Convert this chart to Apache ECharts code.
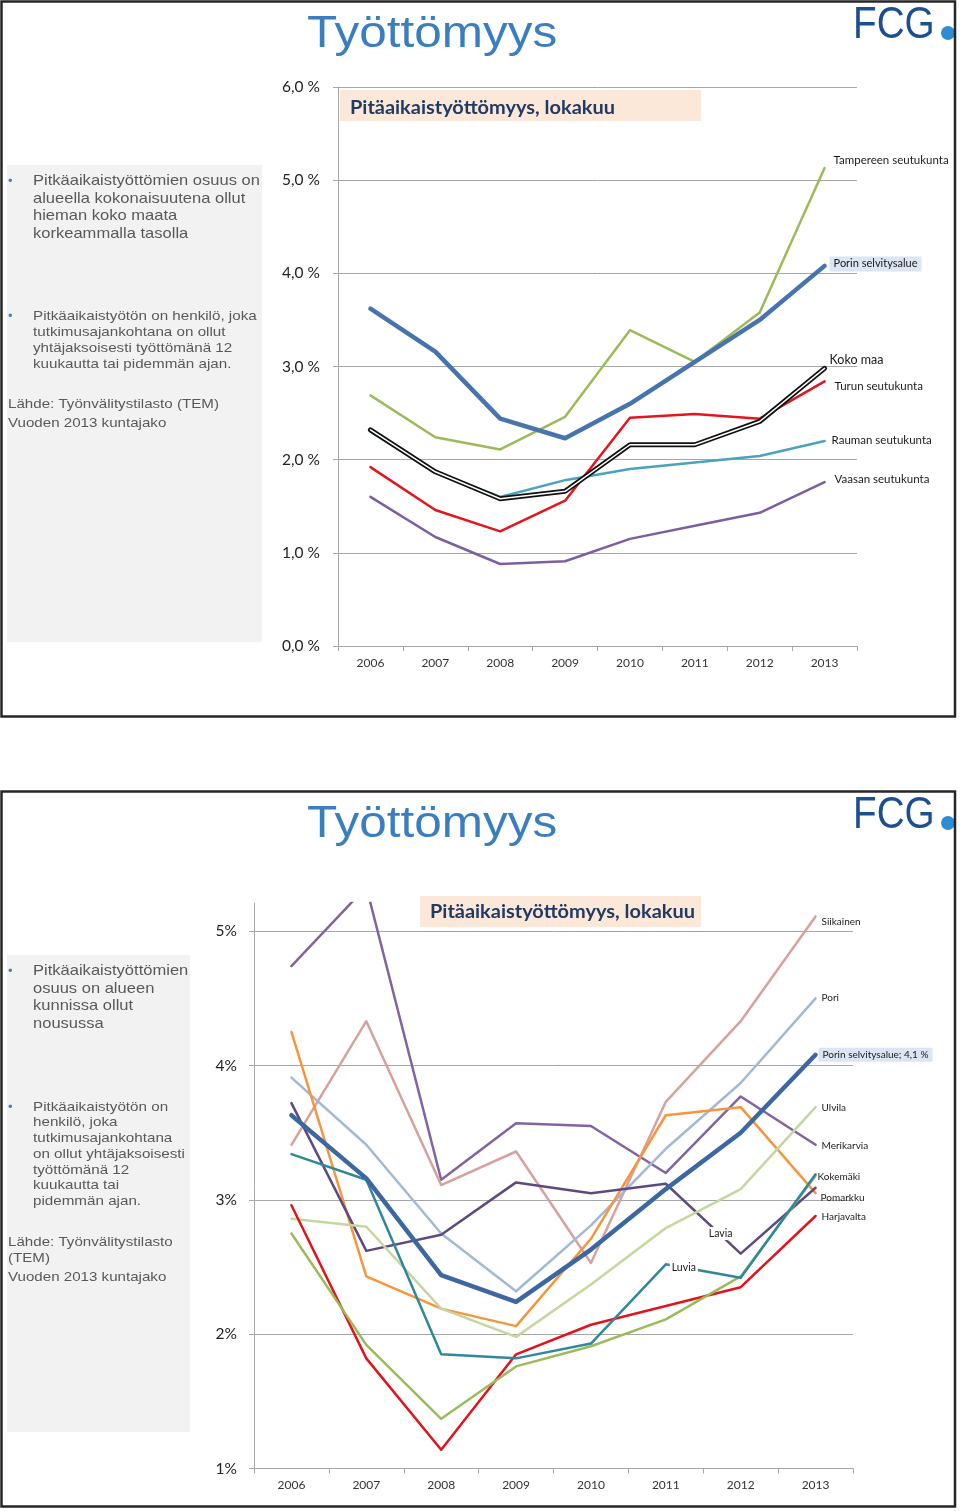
<!DOCTYPE html>
<html><head><meta charset="utf-8">
<script src="https://cdn.jsdelivr.net/npm/echarts@6/dist/echarts.min.js"></script>
<style>html,body{margin:0;padding:0;background:#fff}#c{width:960px;height:1511px}</style>
</head><body><div id="c"></div>
<script>
// ---------- DATA ----------
const years = ['2006','2007','2008','2009','2010','2011','2012','2013'];
const topTickLabels = ['0,0 %','1,0 %','2,0 %','3,0 %','4,0 %','5,0 %','6,0 %'];
const bottomTickLabels = ['1%','2%','3%','4%','5%'];

// Slide 1: Pitkäaikaistyöttömyys by seutukunta (%)
const topPorinSelvitysalue = [3.62, 3.16, 2.44, 2.23, 2.60, 3.05, 3.50, 4.08];
const topTampere          = [2.69, 2.24, 2.11, 2.46, 3.39, 3.05, 3.58, 5.13];
const topKokoMaa          = [2.32, 1.87, 1.58, 1.66, 2.16, 2.16, 2.41, 2.98];
const topTurku            = [1.92, 1.46, 1.23, 1.56, 2.45, 2.49, 2.44, 2.84];
const topRauma            = [2.30, 1.87, 1.60, 1.78, 1.90, 1.97, 2.04, 2.20];
const topVaasa            = [1.60, 1.17, 0.88, 0.91, 1.15, 1.29, 1.43, 1.76];

// Slide 2: by kunta (%)
const siikainen   = [3.41, 4.33, 3.11, 3.36, 2.53, 3.73, 4.33, 5.11];
const pori        = [3.91, 3.41, 2.75, 2.32, 2.81, 3.38, 3.87, 4.50];
const porinSelv   = [3.63, 3.16, 2.44, 2.24, 2.63, 3.08, 3.50, 4.08];
const ulvila      = [2.86, 2.80, 2.19, 1.98, 2.37, 2.79, 3.08, 3.69];
const merikarvia  = [4.74, 5.33, 3.15, 3.57, 3.55, 3.20, 3.77, 3.41];
const kokemaki    = [2.75, 1.92, 1.37, 1.76, 1.91, 2.11, 2.43, 3.18];
const pomarkku    = [4.25, 2.43, 2.19, 2.06, 2.71, 3.63, 3.69, 3.05];
const harjavalta  = [2.96, 1.82, 1.14, 1.85, 2.07, 2.21, 2.35, 2.88];
const lavia       = [3.72, 2.62, 2.74, 3.13, 3.05, 3.12, 2.60, 3.09];
const luvia       = [3.34, 3.15, 1.85, 1.82, 1.93, 2.52, 2.42, 3.19];

// ---------- CHART ----------
const chart = echarts.init(document.getElementById('c'), null, {renderer:'canvas'});
const LBL = 'Lato, "Open Sans", sans-serif';
const GRAY = '#A6A6A6';

function lineSeries(name, data, color, width, gi, endLbl, extra) {
  const s = {
    type:'line', name, data, xAxisIndex:gi, yAxisIndex:gi,
    symbol:'none', showSymbol:false, smooth:false, clip:true,
    lineStyle:{color, width, cap:'round', join:'round'},
    itemStyle:{color}, emphasis:{disabled:true}, silent:true, animation:false
  };
  if (endLbl) {
    s.endLabel = Object.assign({show:true, fontFamily:LBL, color:'#1a1a1a', distance:5}, endLbl);
  }
  return Object.assign(s, extra || {});
}
function midLabel(text, cat, val, offset) {
  return {
    symbol:'circle', symbolSize:0, silent:true, z:20,
    label:{show:true, formatter:text, fontFamily:LBL, fontSize:10.5, color:'#1a1a1a',
           backgroundColor:'#fff', padding:[1,2], offset},
    data:[{coord:[cat, val]}]
  };
}
// text element, optionally stretched horizontally (sx) to match the slide's letter-spaced type
function txt(text, x, y, font, fill, sx) {
  return {type:'text', silent:true, z:5, x, y, scaleX: sx || 1, scaleY:1, originX:0, originY:0,
    style:{text, x:0, y:0, font, fill, align:'left', verticalAlign:'middle', textAlign:'left', textVerticalAlign:'middle'}};
}

const bodyFont1 = '14.5px "Liberation Sans", Arial, sans-serif';
const bodyFont2 = '13.5px "Liberation Sans", Arial, sans-serif';
const BODY = '#595959';
const BUL = '#4F81BD';

const graphic = [];
function slide(off, panelW, bullets1, bullets2, src) {
  graphic.push({type:'rect', silent:true, z:-1, shape:{x:7, y:off+165, width:panelW, height:477}, style:{fill:'#F2F2F2'}});
  graphic.push(txt('Työttömyys', 307, off+35, '44px "Liberation Sans", Arial, sans-serif', '#3B7EC0', 1.125));
  graphic.push(txt('FCG', 853, off+26, '45px "Liberation Sans", Arial, sans-serif', '#1C4F8F', 0.86));
  graphic.push({type:'circle', silent:true, z:5, shape:{cx:948, cy:off+33, r:7}, style:{fill:'#2E8DD2'}});
  graphic.push({type:'rect', silent:true, z:100, shape:{x:1.5, y:off+1.5, width:953.5, height:715}, style:{fill:'none', stroke:'#262626', lineWidth:2.5}});
  bullets1.lines.forEach((l,i)=>graphic.push(txt(l, 33, off+bullets1.y+i*bullets1.lh, bodyFont1, BODY, 1.14)));
  graphic.push(txt('•', 8, off+bullets1.y, '13px "Liberation Sans", Arial', BUL));
  bullets2.lines.forEach((l,i)=>graphic.push(txt(l, 33, off+bullets2.y+i*bullets2.lh, bodyFont2, BODY, 1.125)));
  graphic.push(txt('•', 8, off+bullets2.y, '13px "Liberation Sans", Arial', BUL));
  src.lines.forEach((l,i)=>graphic.push(txt(l, 8, off+src.y[i], bodyFont2, BODY, 1.12)));
}
slide(0, 255,
  {y:181, lh:17.6, lines:['Pitkäaikaistyöttömien osuus on','alueella kokonaisuutena ollut','hieman koko maata','korkeammalla tasolla']},
  {y:316, lh:16, lines:['Pitkäaikaistyötön on henkilö, joka','tutkimusajankohtana on ollut','yhtäjaksoisesti työttömänä 12','kuukautta tai pidemmän ajan.']},
  {y:[404,423], lines:['Lähde: Työnvälitystilasto (TEM)','Vuoden 2013 kuntajako']});
slide(790, 183,
  {y:181, lh:17.6, lines:['Pitkäaikaistyöttömien','osuus on alueen','kunnissa ollut','nousussa']},
  {y:317, lh:15.7, lines:['Pitkäaikaistyötön on','henkilö, joka','tutkimusajankohtana','on ollut yhtäjaksoisesti','työttömänä 12','kuukautta tai','pidemmän ajan.']},
  {y:[452,468,487], lines:['Lähde: Työnvälitystilasto','(TEM)','Vuoden 2013 kuntajako']});

// chart title boxes
graphic.push({type:'rect', silent:true, z:1, shape:{x:340, y:90, width:361, height:31}, style:{fill:'#FCE8D9'}});
graphic.push(txt('Pitäaikaistyöttömyys, lokakuu', 350, 108, 'bold 19px Lato, sans-serif', '#1F3A63', 1.05));
graphic.push({type:'rect', silent:true, z:1, shape:{x:420, y:896, width:281, height:31}, style:{fill:'#FCE8D9'}});
graphic.push(txt('Pitäaikaistyöttömyys, lokakuu', 430, 912, 'bold 19px Lato, sans-serif', '#1F3A63', 1.05));

const xAxisBase = (gi) => ({
  type:'category', gridIndex:gi, data:years, boundaryGap:true,
  axisLine:{show:true, onZero:false, lineStyle:{color:GRAY, width:1}},
  axisTick:{show:true, length:5, lineStyle:{color:GRAY}},
  axisLabel:{fontFamily:LBL, fontSize:12, color:'#333', margin:11},
  splitLine:{show:false}
});

const option = {
  backgroundColor:'#ffffff',
  animation:false,
  grid:[
    {left:338, top:87, width:519, height:559, containLabel:false},
    {left:254, top:903, width:599, height:565.5, containLabel:false}
  ],
  xAxis:[xAxisBase(0), xAxisBase(1)],
  yAxis:[
    {type:'value', gridIndex:0, min:0, max:6, interval:1,
     axisLine:{show:true, lineStyle:{color:GRAY}},
     axisTick:{show:true, length:5, lineStyle:{color:GRAY}},
     splitLine:{show:true, lineStyle:{color:GRAY, width:1}},
     axisLabel:{fontFamily:LBL, fontSize:15.5, color:'#222', margin:18,
       formatter:(v)=> topTickLabels[Math.round(v)] || ''}},
    {type:'value', gridIndex:1, min:1, max:5.21, interval:1,
     axisLine:{show:true, lineStyle:{color:GRAY}},
     axisTick:{show:true, length:5, lineStyle:{color:GRAY}},
     splitLine:{show:true, showMaxLine:false, lineStyle:{color:GRAY, width:1}},
     axisLabel:{fontFamily:LBL, fontSize:15.5, color:'#222', margin:17, showMaxLabel:false,
       formatter:(v)=> (Math.abs(v-Math.round(v))<1e-6 ? (bottomTickLabels[Math.round(v)-1]||'') : '')}}
  ],
  graphic:{elements:graphic},
  series:[
    // --- top chart ---
    lineSeries('Tampereen seutukunta', topTampere, '#9BBB59', 2.5, 0, {formatter:'Tampereen seutukunta', fontSize:11.5, offset:[4,-8]}),
    lineSeries('Rauman seutukunta', topRauma, '#4AA3BB', 2.5, 0, {formatter:'Rauman seutukunta', fontSize:11.5, offset:[2,-1]}),
    lineSeries('Vaasan seutukunta', topVaasa, '#7C5FA0', 2.5, 0, {formatter:'Vaasan seutukunta', fontSize:11.5, offset:[5,-3]}),
    lineSeries('Turun seutukunta', topTurku, '#E3161D', 2.5, 0, {formatter:'Turun seutukunta', fontSize:11.5, offset:[5,5]}),
    lineSeries('Koko maa', topKokoMaa, '#111111', 5, 0, {formatter:'Koko maa', fontSize:12.5, offset:[0,-8]}),
    lineSeries('Koko maa ', topKokoMaa, '#ffffff', 1.5, 0, null),
    lineSeries('Porin selvitysalue', topPorinSelvitysalue, '#4874AE', 4.5, 0,
      {formatter:'Porin selvitysalue', fontSize:11, offset:[0,-2], backgroundColor:'#DCE6F2', padding:[2,4]}),
    // --- bottom chart ---
    lineSeries('Merikarvia', merikarvia, '#8064A2', 2.5, 1, {formatter:'Merikarvia', fontSize:10, offset:[1,1]}),
    lineSeries('Siikainen', siikainen, '#D6A19E', 2.5, 1, {formatter:'Siikainen', fontSize:10, offset:[1,5]}),
    lineSeries('Pori', pori, '#A2B8D6', 2.5, 1, {formatter:'Pori', fontSize:10, offset:[1,-1]}),
    lineSeries('Pomarkku', pomarkku, '#F5963F', 2.5, 1, {formatter:'Pomarkku', fontSize:10, offset:[0,5]}),
    lineSeries('Lavia', lavia, '#5E4A7E', 2.5, 1, null, {markPoint: midLabel('Lavia', '2012', lavia[6], [-20,-20])}),
    lineSeries('Ulvila', ulvila, '#C4D79E', 2.5, 1, {formatter:'Ulvila', fontSize:10, offset:[1,1]}),
    lineSeries('Harjavalta', harjavalta, '#E3131B', 2.5, 1, {formatter:'Harjavalta', fontSize:10, offset:[1,1]}),
    lineSeries('Kokemäki', kokemaki, '#9BBB59', 2.5, 1, {formatter:'Kokemäki', fontSize:10, offset:[-3,1]}),
    lineSeries('Luvia', luvia, '#31879C', 2.5, 1, null, {markPoint: midLabel('Luvia', '2011', luvia[5], [18,3])}),
    lineSeries('Porin selvitysalue, kunnat', porinSelv, '#3D67A0', 4.5, 1,
      {formatter:'Porin selvitysalue; 4,1 %', fontSize:10, offset:[-2,0], backgroundColor:'#DCE6F2', padding:[2,4]})
  ]
};
chart.setOption(option);
</script>
</body></html>
